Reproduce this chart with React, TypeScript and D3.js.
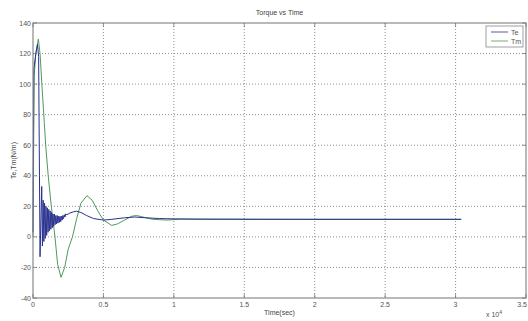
import React from 'react';
import * as d3 from 'd3';

// time in units of 1e4 sec, torque in N/m
const teTime = [0, 0.006, 0.02, 0.032, 0.04, 0.046, 0.05, 0.062, 0.067, 0.072, 0.077, 0.082, 0.087, 0.092, 0.097, 0.102, 0.107, 0.112, 0.117, 0.122, 0.127, 0.132, 0.137, 0.142, 0.147, 0.152, 0.157, 0.162, 0.167, 0.172, 0.177, 0.182, 0.187, 0.192, 0.197, 0.202, 0.207, 0.212, 0.217, 0.222, 0.227, 0.232, 0.24, 0.26, 0.29, 0.31, 0.34, 0.38, 0.43, 0.5, 0.56, 0.65, 0.72, 0.8, 0.9, 1.0, 1.2, 1.6, 2.2, 3.04];
const teValue = [3, 110, 120, 126, 118, 40, -13, 33, -6, 24, -3, 22, -1, 20, 1, 19, 3, 18, 4, 17, 5, 16, 6, 15, 7, 15, 8, 14, 8.5, 14, 9, 13.5, 9.5, 13.5, 10, 13.5, 11, 14, 12, 14.5, 13, 15, 14.5, 15.5, 16.5, 16.8, 16, 14, 12, 11, 11.5, 12.5, 13, 12.5, 12, 11.8, 11.6, 11.5, 11.5, 11.5];

const tmTime = [0, 0.008, 0.02, 0.038, 0.05, 0.065, 0.08, 0.09, 0.108, 0.13, 0.156, 0.175, 0.199, 0.225, 0.25, 0.28, 0.31, 0.34, 0.383, 0.42, 0.46, 0.5, 0.559, 0.6, 0.65, 0.7, 0.736, 0.78, 0.85, 0.95, 1.05, 1.3, 2.0, 3.04];
const tmValue = [0, 105, 120, 129.5, 120, 97, 75, 60, 40, 20, 0, -18, -26.5, -20, -8, 0, 12, 22, 27, 24, 17, 11, 7.5, 8.5, 11, 13.5, 14, 13, 11.5, 11, 11.6, 11.6, 11.5, 11.5];

const xTicks = [0, 0.5, 1, 1.5, 2, 2.5, 3, 3.5];
const yTicks = [-40, -20, 0, 20, 40, 60, 80, 100, 120, 140];

const W = 528;
const H = 321;
const m = { left: 33, right: 2, top: 23, bottom: 23 };
const font = 'Liberation Sans, Arial, sans-serif';

export default function App() {
  const x = d3.scaleLinear().domain([0, 3.5]).range([m.left, W - m.right]);
  const y = d3.scaleLinear().domain([-40, 140]).range([H - m.bottom, m.top]);

  const line = d3.line<[number, number]>()
    .x(d => x(d[0]))
    .y(d => y(d[1]));

  const te = teTime.map((t, i) => [t, teValue[i]] as [number, number]);
  const tm = tmTime.map((t, i) => [t, tmValue[i]] as [number, number]);

  const [x0, x1] = x.range();
  const [y0, y1] = y.range();
  const lastX = xTicks[xTicks.length - 1];

  return (
    <svg width={W} height={H} style={{ position: 'absolute', left: 0, top: 0, background: '#fff' }}>
      {/* grid */}
      <g stroke="#444" strokeWidth={0.6} strokeDasharray="1,2">
        {xTicks.slice(1, -1).map(t => (
          <line key={'gx' + t} x1={x(t)} x2={x(t)} y1={y1} y2={y0} />
        ))}
        {yTicks.slice(1, -1).map(t => (
          <line key={'gy' + t} x1={x0} x2={x1} y1={y(t)} y2={y(t)} />
        ))}
      </g>

      <path d={line(tm) || ''} fill="none" stroke="#4f9a5a" strokeWidth={1} />
      <path d={line(te) || ''} fill="none" stroke="#2a3290" strokeWidth={1} />

      {/* axes box */}
      <rect x={x0} y={y1} width={x1 - x0} height={y0 - y1} fill="none" stroke="#8a8a8a" strokeWidth={1.2} />
      <g stroke="#777" strokeWidth={0.8}>
        {xTicks.map(t => (
          <g key={'tx' + t}>
            <line x1={x(t)} x2={x(t)} y1={y0} y2={y0 - 4} />
            <line x1={x(t)} x2={x(t)} y1={y1} y2={y1 + 4} />
          </g>
        ))}
        {yTicks.map(t => (
          <g key={'ty' + t}>
            <line x1={x0} x2={x0 + 4} y1={y(t)} y2={y(t)} />
            <line x1={x1} x2={x1 - 4} y1={y(t)} y2={y(t)} />
          </g>
        ))}
      </g>

      <g fontFamily={font} fontSize={7} fill="#555">
        {xTicks.map(t => (
          <text key={'lx' + t} x={t === lastX ? x(t) + 1 : x(t)} y={y0 + 9}
            textAnchor={t === lastX ? 'end' : 'middle'}>{t}</text>
        ))}
        {yTicks.map(t => (
          <text key={'ly' + t} x={x0 - 2} y={y(t) + 2.5} textAnchor="end">{t}</text>
        ))}
        <text x={486} y={317}>x 10<tspan dy={-3} fontSize={5}>4</tspan></text>
        <text x={(x0 + x1) / 2} y={15} textAnchor="middle" fill="#444">Torque vs Time</text>
        <text x={(x0 + x1) / 2} y={315} textAnchor="middle" fill="#444">Time(sec)</text>
        <text transform={`translate(16,${(y0 + y1) / 2}) rotate(-90)`} textAnchor="middle" fill="#444">Te,Tm(N/m)</text>
      </g>

      {/* legend */}
      <g fontFamily={font} fontSize={7} fill="#555">
        <rect x={486} y={26} width={37} height={21} fill="#fff" stroke="#888" strokeWidth={0.8} />
        <line x1={491} x2={508} y1={32} y2={32} stroke="#2a3290" strokeWidth={0.8} />
        <text x={511} y={34.5}>Te</text>
        <line x1={491} x2={508} y1={41} y2={41} stroke="#4f9a5a" strokeWidth={0.8} />
        <text x={511} y={43.5}>Tm</text>
      </g>
    </svg>
  );
}
